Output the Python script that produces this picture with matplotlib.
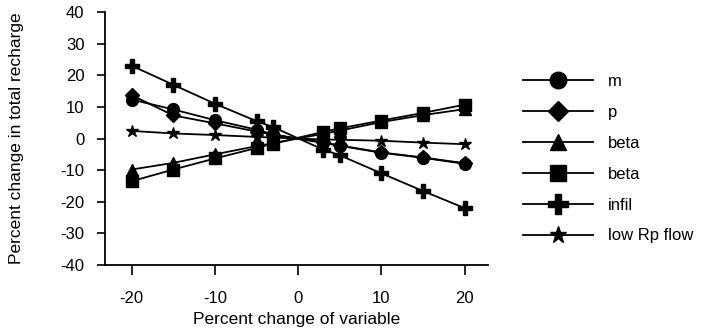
import matplotlib
matplotlib.use("Agg")
import matplotlib.pyplot as plt

plt.rcParams["font.family"] = ["Liberation Sans", "DejaVu Sans"]
plt.rcParams["axes.unicode_minus"] = False

# percent change of variable
x = [-20, -15, -10, -5, -3, 3, 5, 10, 15, 20]

m_vals     = [12.3, 9.2, 5.8, 2.8, 1.3, -1.4, -2.3, -4.5, -6.1, -8.0]
p_vals     = [13.7, 7.3, 4.8, 2.2, 1.2, -1.2, -2.2, -4.4, -6.0, -7.8]
beta1_vals = [-9.8, -7.7, -5.0, -2.4, -1.5, 1.5, 2.5, 5.2, 7.4, 9.3]
beta2_vals = [-13.5, -9.8, -6.3, -3.0, -1.6, 2.1, 3.2, 5.7, 8.1, 10.7]
infil_vals = [23.0, 17.0, 11.0, 5.5, 3.6, -3.5, -5.3, -11.0, -16.6, -22.0]
lowrp_vals = [2.4, 1.6, 1.1, 0.5, 0.3, -0.3, -0.4, -0.7, -1.3, -1.8]

labels = ["m", "p", "beta", "beta", "infil", "low Rp flow"]

fig = plt.figure(figsize=(7.01, 3.35), dpi=100)
ax = fig.add_axes([0.150, 0.209, 0.546, 0.755])

series = [
    (m_vals,     dict(marker="o", ms=8.5)),
    (p_vals,     dict(marker="D", ms=7)),
    (beta1_vals, dict(marker="^", ms=8.5)),
    (beta2_vals, dict(marker="s", ms=8.5)),
    (infil_vals, dict(marker="P", ms=10)),
    (lowrp_vals, dict(marker="*", ms=9)),
]

handles = []
for (vals, kw), lab in zip(series, labels):
    h, = ax.plot(x, vals, color="black", lw=1.3, mfc="black", mec="black",
                 label=lab, **kw)
    handles.append(h)

ax.set_xlim(-23.2, 22.8)
ax.set_ylim(-40, 40)
ax.set_xticks([-20, -10, 0, 10, 20])
ax.set_yticks(range(-40, 41, 10))
ax.spines["top"].set_visible(False)
ax.spines["right"].set_visible(False)
ax.spines["left"].set_linewidth(1.3)
ax.spines["bottom"].set_linewidth(1.3)
ax.tick_params(axis="x", direction="out", length=7, width=1.2, labelsize=12, pad=12)
ax.tick_params(axis="y", direction="out", length=6, width=1.2, labelsize=12, pad=9)
ax.set_xlabel("Percent change of variable", fontsize=12.5, labelpad=4)
ax.set_ylabel("Percent change in total recharge", fontsize=12.5, labelpad=26)

fig.legend(handles=handles, labels=labels, loc="upper left",
           bbox_to_anchor=(0.725, 0.823), frameon=False, fontsize=12,
           markerscale=1.4, handlelength=4.2, labelspacing=0.95,
           handletextpad=0.9)

fig.savefig("out.png", dpi=100)
